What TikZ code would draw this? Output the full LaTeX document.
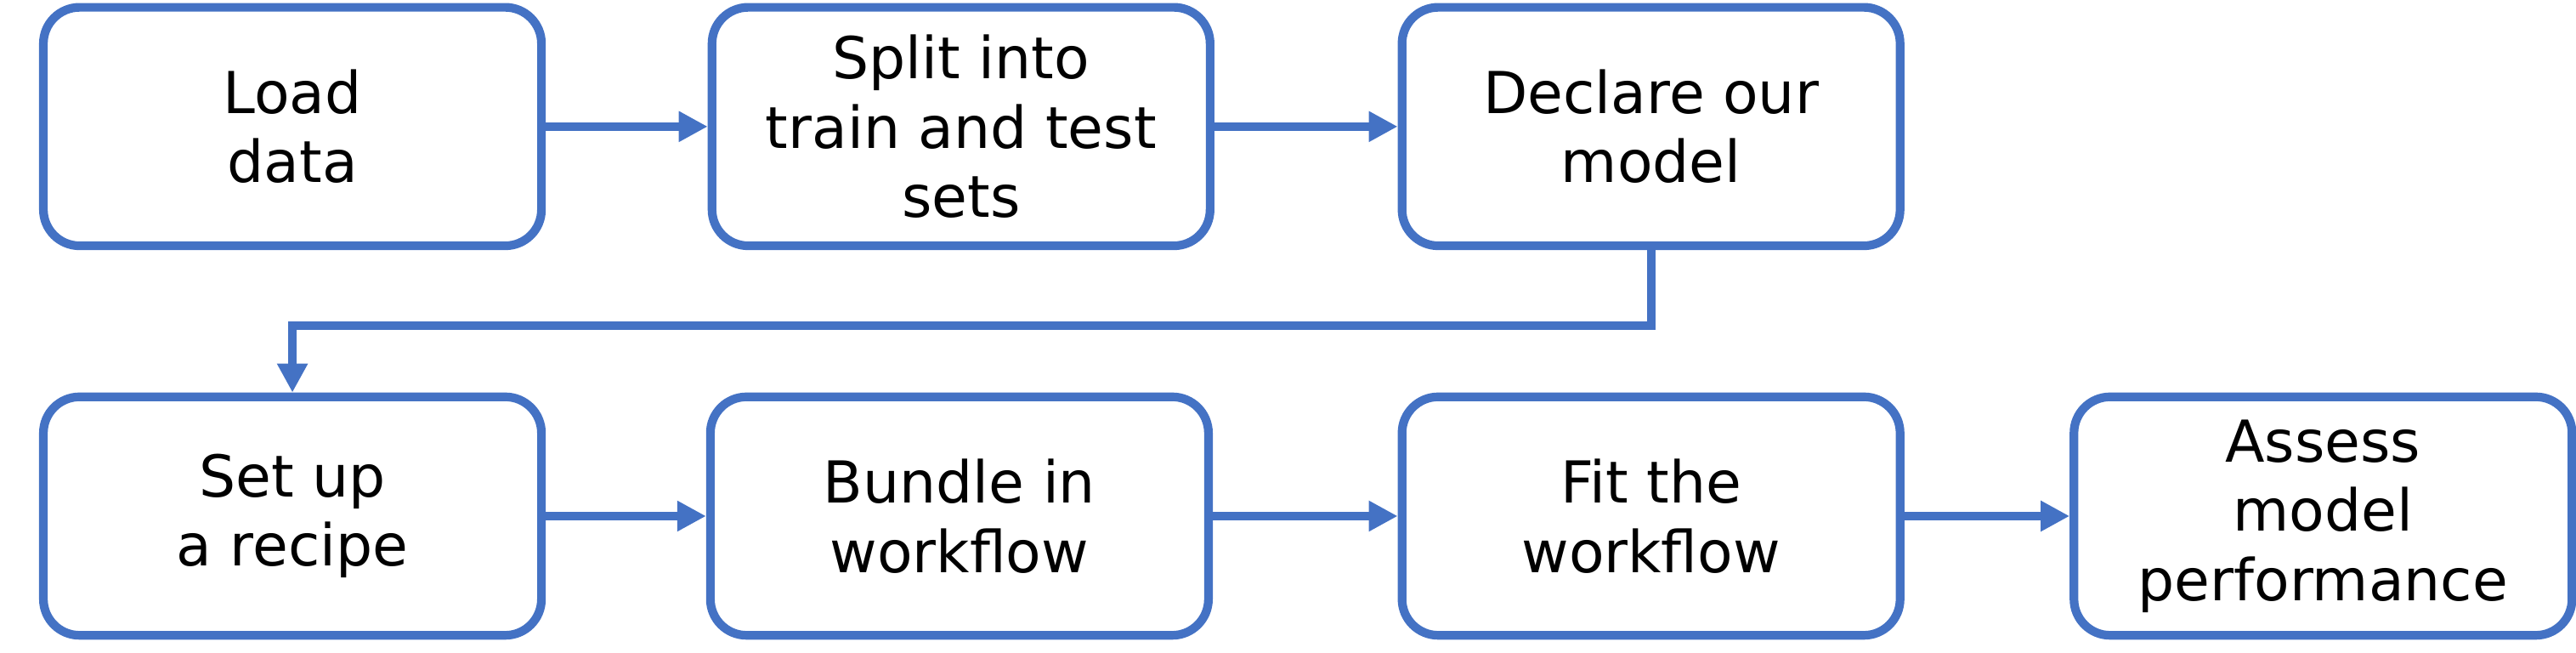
\documentclass[tikz,border=0pt]{standalone}
\usepackage{fontspec}
\setmainfont{DejaVu Sans}
\usetikzlibrary{arrows.meta}
\definecolor{stepblue}{HTML}{4472C4}
\begin{document}
\begin{tikzpicture}[x=0.01cm, y=-0.01cm,
  stage/.style={draw=stepblue, line width=1.5pt, rounded corners=0.22cm, fill=white,
    minimum width=3.03cm, minimum height=1.45cm, inner sep=0pt, align=center,
    font=\normalsize},
  flow/.style={draw=stepblue, line width=1.5pt, -{Triangle[length=5pt,width=5pt]}}]

  \useasboundingbox (0,0) rectangle (1568,397);

  %% top row
  \node[stage] (load)    at (178, 77)  {Load\\data};
  \node[stage] (split)   at (585, 77)  {Split into\\train and test\\sets};
  \node[stage] (declare) at (1005, 77) {Declare our\\model};

  %% bottom row
  \node[stage] (recipe)   at (178, 314)  {Set up\\a recipe};
  \node[stage] (bundle)   at (584, 314)  {Bundle in\\workflow};
  \node[stage] (fit)      at (1005, 314) {Fit the\\workflow};
  \node[stage] (assess)   at (1414, 314) {Assess\\model\\performance};

  \coordinate (turnA) at (1005, 198);
  \coordinate (turnB) at (178, 198);

  \draw[flow] (load) -- (split);
  \draw[flow] (split) -- (declare);
  \draw[flow] (declare.south) -- (turnA) -- (turnB) -- (recipe.north);
  \draw[flow] (recipe) -- (bundle);
  \draw[flow] (bundle) -- (fit);
  \draw[flow] (fit) -- (assess);
\end{tikzpicture}
\end{document}
